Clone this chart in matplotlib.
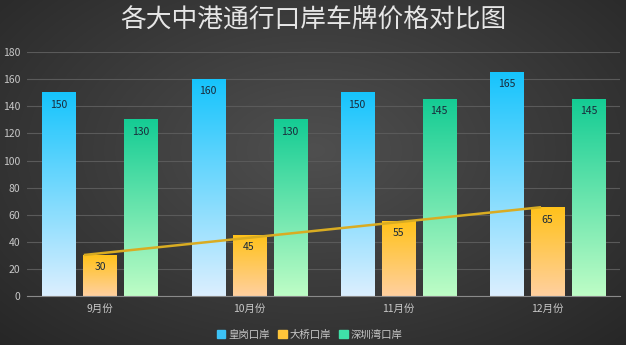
import numpy as np
import matplotlib.pyplot as plt
from matplotlib.colors import LinearSegmentedColormap

plt.rcParams['font.family'] = ['Noto Sans CJK SC', 'DejaVu Sans']

months = ['9月份', '10月份', '11月份', '12月份']
huanggang = [150, 160, 150, 165]
daqiao = [30, 45, 55, 65]
shenzhenwan = [130, 130, 145, 145]
series_names = ['皇岗口岸', '大桥口岸', '深圳湾口岸']

# top colour / bottom colour of each series gradient
grads = [('#16c4fc', '#dcefff'), ('#ffc21a', '#ffd0a0'), ('#14cc94', '#befdc6')]
legend_colors = ['#3cc2f5', '#ffc53a', '#3fe0a8']

fig = plt.figure(figsize=(6.26, 3.45), dpi=100)

# dark radial background
bg = fig.add_axes([0, 0, 1, 1])
yy, xx = np.mgrid[0:345, 0:626]
r = np.sqrt(((xx - 313) / 420.0) ** 2 + ((yy - 150) / 260.0) ** 2)
shade = np.clip(0.31 - 0.15 * r, 0.15, 0.31)
bg.imshow(np.dstack([shade] * 3), aspect='auto', extent=[0, 1, 0, 1])
bg.axis('off')

ax = fig.add_axes([0.043, 0.142, 0.948, 0.707])
ax.patch.set_alpha(0)

x = np.arange(len(months))
w = 0.222
step = 0.275
for k, vals in enumerate([huanggang, daqiao, shenzhenwan]):
    cmap = LinearSegmentedColormap.from_list('g%d' % k, [grads[k][1], grads[k][0]])
    bars = ax.bar(x + (k - 1) * step, vals, w, color='none', zorder=2)
    for b, v in zip(bars, vals):
        x0 = b.get_x()
        grad = np.linspace(0, 1, 256).reshape(-1, 1)
        ax.imshow(grad, cmap=cmap, origin='lower', aspect='auto',
                  extent=[x0, x0 + w, 0, v], zorder=2)
        ax.text(x0 + w / 2, v - 5, str(v), ha='center', va='top',
                fontsize=7.5, color='#1a2a3a', zorder=4)

# linear trend of the second series
coef = np.polyfit(x, daqiao, 1)
tx = np.array([-0.1, 2.95])
ax.plot(tx, np.polyval(coef, tx), color='#d9ac22', lw=1.8, zorder=3)

ax.set_xlim(-0.49, 3.49)
ax.set_ylim(0, 180)
ax.set_yticks(range(0, 181, 20))
ax.set_xticks(x)
ax.set_xticklabels(months)
ax.tick_params(length=0, colors='#c8c8c8', labelsize=7.5)
ax.tick_params(axis='y', pad=5)
ax.tick_params(axis='x', pad=6)
ax.yaxis.grid(True, color='#5a5a5a', lw=0.8)
ax.set_axisbelow(True)
for s in ['top', 'right', 'left']:
    ax.spines[s].set_visible(False)
ax.spines['bottom'].set_color('#8a8a8a')

fig.text(0.5, 0.94, '各大中港通行口岸车牌价格对比图', ha='center', va='center',
         fontsize=18.5, color='#e6e6e6', fontweight='light')

handles = [plt.Rectangle((0, 0), 1, 1, color=c) for c in legend_colors]
fig.legend(handles, series_names, loc='center', bbox_to_anchor=(0.495, 0.03),
           ncol=3, frameon=False, fontsize=7.5, labelcolor='#c8c8c8',
           handlelength=0.8, handleheight=0.8, handletextpad=0.3, columnspacing=0.8)

fig.savefig('out.png', dpi=100)
